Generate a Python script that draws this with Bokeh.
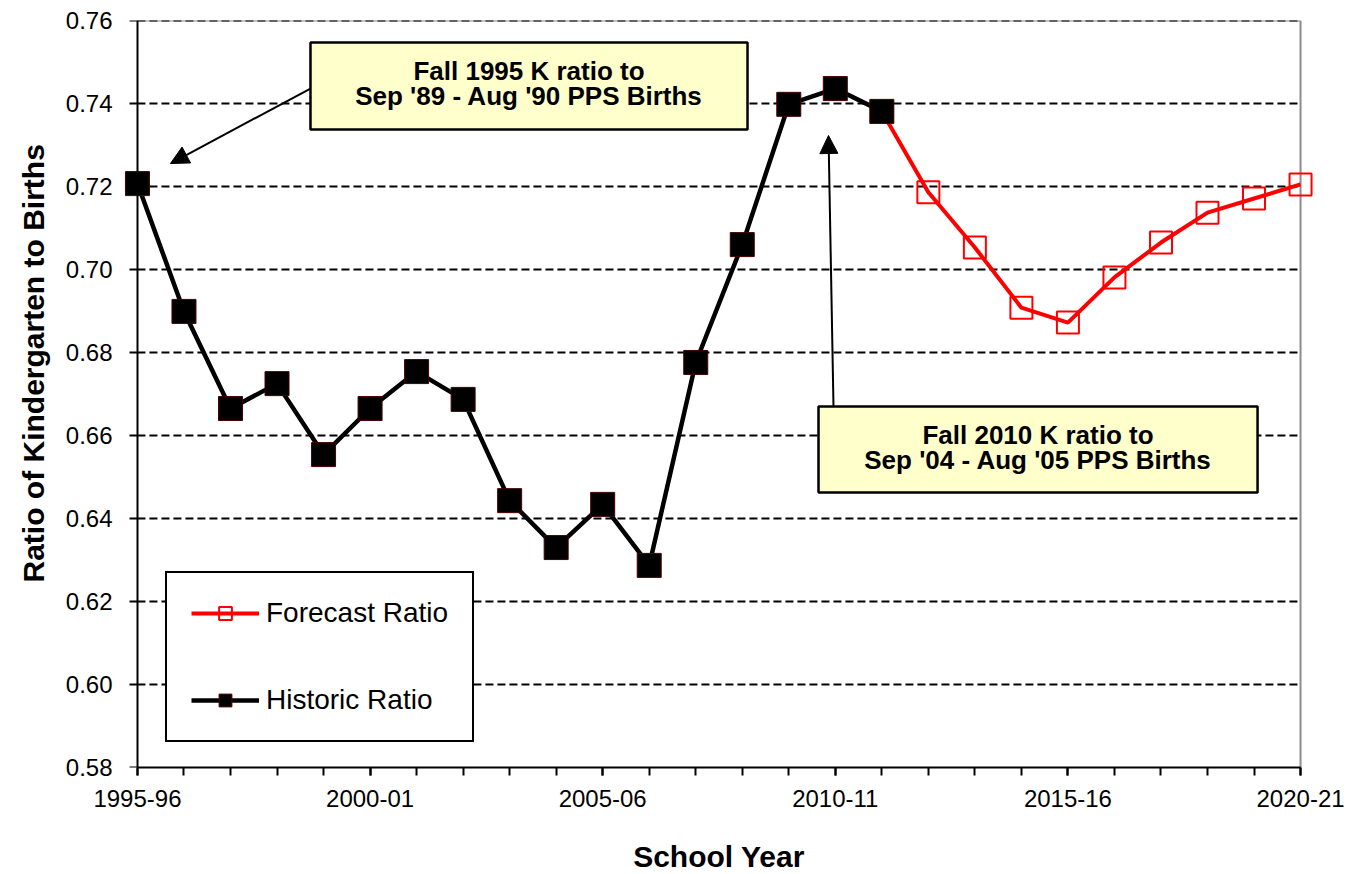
from bokeh.plotting import figure
from bokeh.models import (Range1d, FixedTicker, NumeralTickFormatter, BoxAnnotation, Label,
                          Arrow, NormalHead, Legend, LegendItem, LinearAxis, Title)
from bokeh.embed import file_html
from bokeh.resources import INLINE

# ---------------- data ----------------
years = [1995, 1996, 1997, 1998, 1999, 2000, 2001, 2002, 2003, 2004, 2005, 2006, 2007,
         2008, 2009, 2010, 2011, 2012, 2013, 2014, 2015, 2016, 2017, 2018, 2019, 2020]
label_years = [1995, 2000, 2005, 2010, 2015, 2020]
label_text = ["1995-96", "2000-01", "2005-06", "2010-11", "2015-16", "2020-21"]

hist_years = [1995, 1996, 1997, 1998, 1999, 2000, 2001, 2002, 2003, 2004, 2005, 2006,
              2007, 2008, 2009, 2010, 2011]
hist_ratio = [0.7207, 0.6899, 0.6665, 0.6725, 0.6554, 0.6665, 0.6754, 0.6687, 0.6443,
              0.6330, 0.6434, 0.6287, 0.6776, 0.7060, 0.7398, 0.7436, 0.7381]

fc_years = [2011, 2012, 2013, 2014, 2015, 2016, 2017, 2018, 2019, 2020]
fc_ratio = [0.7381, 0.7186, 0.7053, 0.6908, 0.6872, 0.6981, 0.7065, 0.7137, 0.7171, 0.7205]

y_ticks = [0.58, 0.60, 0.62, 0.64, 0.66, 0.68, 0.70, 0.72, 0.74, 0.76]

FONT = "Liberation Sans"

# ---------------- figure ----------------
p = figure(frame_width=1191, frame_height=747,
           x_range=Range1d(1994.7, 2020.3), y_range=Range1d(0.58, 0.76),
           output_backend="svg", toolbar_location=None,
           min_border_left=123, min_border_right=40, min_border_top=20, min_border_bottom=106,
           background_fill_color="white", border_fill_color="white")
p.outline_line_color = None
p.xgrid.visible = False
p.ygrid.visible = False

# x axis: labelled ticks every five years, plain ticks every year
xa = p.xaxis[0]
xa.ticker = FixedTicker(ticks=label_years, minor_ticks=years)
xa.major_label_overrides = dict(zip(label_years, label_text))
xa.bounds = (years[0], years[-1])
xa.axis_line_width = 2
xa.axis_line_color = "black"
xa.major_tick_out = 8
xa.major_tick_in = 0
xa.major_tick_line_width = 2
xa.minor_tick_out = 8
xa.minor_tick_in = 0
xa.minor_tick_line_width = 2
xa.minor_tick_line_color = "black"
xa.major_label_standoff = 14
xa.major_label_text_font = FONT
xa.major_label_text_font_size = "24px"
xa.major_label_text_color = "black"
xa.axis_label = "School Year"
xa.axis_label_text_font = FONT
xa.axis_label_text_font_size = "30px"
xa.axis_label_text_font_style = "bold"
xa.axis_label_text_color = "black"
xa.axis_label_standoff = 30

# y axis: tick labels at frame edge
ya = p.yaxis[0]
ya.ticker = FixedTicker(ticks=y_ticks)
ya.formatter = NumeralTickFormatter(format="0.00")
ya.axis_line_color = None
ya.major_tick_line_color = None
ya.major_tick_out = 0
ya.major_tick_in = 0
ya.minor_tick_line_color = None
ya.major_label_standoff = 11
ya.major_label_text_font = FONT
ya.major_label_text_font_size = "24px"
ya.major_label_text_color = "black"

# y axis title
p.add_layout(Title(text="Ratio of Kindergarten to Births", align="left", offset=185,
                   vertical_align="top", text_font=FONT, text_font_size="30px",
                   text_font_style="bold", text_color="black", standoff=22), "left")

# y axis line + ticks placed at the first school year
y_rule = LinearAxis(fixed_location=years[0], ticker=FixedTicker(ticks=[], minor_ticks=y_ticks),
                    axis_line_width=2, axis_line_color="black",
                    major_tick_line_color=None,
                    minor_tick_in=8, minor_tick_out=0, minor_tick_line_width=2,
                    minor_tick_line_color="black", major_label_standoff=0)
p.add_layout(y_rule, "right")

# plot-area border (right and top) and dashed gridlines
p.segment(x0=years[-1], y0=y_ticks[0], x1=years[-1], y1=y_ticks[-1],
          line_color="#8c8c8c", line_width=2)
p.segment(x0=years[0], y0=y_ticks[-1], x1=years[-1], y1=y_ticks[-1],
          line_color="#8c8c8c", line_width=2)
p.segment(x0=years[0], y0=y_ticks[1:], x1=years[-1], y1=y_ticks[1:],
          line_color="black", line_width=2, line_dash="8 4")

# series
fc_line = p.line(fc_years, fc_ratio, line_color="#ff0000", line_width=4)
fc_pts = p.scatter(fc_years, fc_ratio, marker="square", size=22, fill_color=None,
                   line_color="#ff0000", line_width=2)
hist_line = p.line(hist_years, hist_ratio, line_color="black", line_width=4.5)
hist_pts = p.scatter(hist_years, hist_ratio, marker="square", size=24, fill_color="black",
                     line_color="#4a0000", line_width=1)

# legend
legend = Legend(items=[LegendItem(label="Forecast Ratio", renderers=[fc_line, fc_pts]),
                       LegendItem(label="Historic Ratio", renderers=[hist_line, hist_pts])],
                location=(42, 25), margin=0, padding=24, spacing=55,
                glyph_width=68, glyph_height=32, label_standoff=7,
                label_text_font=FONT, label_text_font_size="28px", label_text_color="black",
                border_line_color="black", border_line_width=2.5, border_line_alpha=1,
                background_fill_color="white", background_fill_alpha=1)
p.add_layout(legend)

# callouts
p.add_layout(Arrow(end=NormalHead(size=18, fill_color="black", line_color="black"),
                   x_start=1998.719, y_start=0.74361, x_end=1995.709, y_end=0.72554,
                   line_width=2, line_color="black"))
p.add_layout(Arrow(end=NormalHead(size=18, fill_color="black", line_color="black"),
                   x_start=2009.961, y_start=0.66699, x_end=2009.854, y_end=0.73229,
                   line_width=2, line_color="black"))

p.add_layout(BoxAnnotation(left=1998.719, right=2008.113, top=0.75470, bottom=0.73373,
                           fill_color="#FFFFCC", fill_alpha=1,
                           line_color="black", line_width=2.5, line_alpha=1))
p.add_layout(BoxAnnotation(left=2009.639, right=2019.076, top=0.66699, bottom=0.64627,
                           fill_color="#FFFFCC", fill_alpha=1,
                           line_color="black", line_width=2.5, line_alpha=1))

callouts = [(2003.416, 0.74795, "Fall 1995 K ratio to"),
            (2003.416, 0.74169, "Sep '89 - Aug '90 PPS Births"),
            (2014.357, 0.66024, "Fall 2010 K ratio to"),
            (2014.357, 0.65398, "Sep '04 - Aug '05 PPS Births")]
for cx, cy, txt in callouts:
    p.add_layout(Label(x=cx, y=cy, text=txt, text_align="center", text_baseline="alphabetic",
                       text_font=FONT, text_font_size="26px", text_font_style="bold",
                       text_color="black"))

open("out.html", "w").write(file_html(p, INLINE))
